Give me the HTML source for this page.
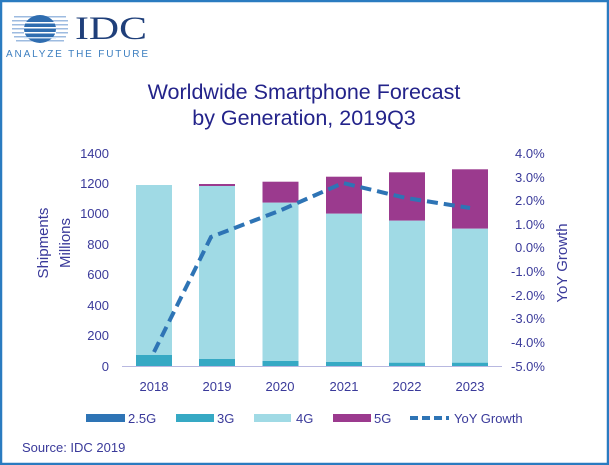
<!DOCTYPE html>
<html><head><meta charset="utf-8"><style>
body{margin:0;background:#fff}
svg{display:block;font-family:"Liberation Sans",sans-serif}
</style></head><body>
<svg width="609" height="465" viewBox="0 0 609 465">
<rect x="1" y="1" width="607" height="463" fill="#fff" stroke="#2a7bc0" stroke-width="2.5"/>
<!-- logo -->
<g>
<rect x="14" y="16" width="52" height="1.5" fill="#9dbbe0"/>
<rect x="12" y="20" width="56" height="1.5" fill="#9dbbe0"/>
<rect x="12" y="24" width="56" height="1.5" fill="#9dbbe0"/>
<rect x="12" y="28" width="56" height="1.5" fill="#9dbbe0"/>
<rect x="12" y="32" width="56" height="1.5" fill="#9dbbe0"/>
<rect x="14" y="36" width="52" height="1.5" fill="#9dbbe0"/>
<rect x="16" y="40" width="48" height="1.5" fill="#9dbbe0"/>
<ellipse cx="40" cy="29" rx="16" ry="14" fill="#2f6db0"/>
<rect x="24" y="22" width="32" height="1.5" fill="#fff"/>
<rect x="24" y="27" width="32" height="1.5" fill="#fff"/>
<rect x="24" y="32" width="32" height="1.5" fill="#fff"/>
<rect x="24" y="37" width="32" height="1.5" fill="#cfe0f2"/>
</g>
<text x="75" y="39" font-family="Liberation Serif,serif" font-size="33" fill="#1f3f7a" textLength="72" lengthAdjust="spacingAndGlyphs">IDC</text>
<text x="6" y="57" font-size="10" fill="#3d7fc0" textLength="142">ANALYZE THE FUTURE</text>
<g fill="#23238a" font-size="21.5" text-anchor="middle">
<text x="304" y="99">Worldwide Smartphone Forecast</text>
<text x="304" y="125">by Generation, 2019Q3</text>
</g>
<!-- axes labels -->
<g fill="#3a3a9a" font-size="13" text-anchor="end">
<text x="109" y="158">1400</text><text x="109" y="188">1200</text><text x="109" y="218">1000</text>
<text x="109" y="249">800</text><text x="109" y="279">600</text><text x="109" y="310">400</text>
<text x="109" y="340">200</text><text x="109" y="371">0</text>
</g>
<g fill="#3a3a9a" font-size="13">
<text x="515" y="158">4.0%</text><text x="515" y="182">3.0%</text><text x="515" y="205">2.0%</text>
<text x="515" y="229">1.0%</text><text x="515" y="252">0.0%</text><text x="511" y="276">-1.0%</text>
<text x="511" y="300">-2.0%</text><text x="511" y="323">-3.0%</text><text x="511" y="347">-4.0%</text>
<text x="511" y="371">-5.0%</text>
</g>
<g fill="#3a3a9a" font-size="15" text-anchor="middle">
<text transform="translate(48,243) rotate(-90)">Shipments</text>
<text transform="translate(70,243) rotate(-90)">Millions</text>
<text transform="translate(567,263) rotate(-90)">YoY Growth</text>
</g>
<!-- bars -->
<g>
<rect x="136" y="185" width="36" height="170" fill="#a0dae5"/><rect x="136" y="355" width="36" height="11" fill="#36a9c4"/>
<rect x="199" y="184" width="36" height="2" fill="#9b3a8e"/><rect x="199" y="186" width="36" height="173" fill="#a0dae5"/><rect x="199" y="359" width="36" height="7" fill="#36a9c4"/>
<rect x="262.5" y="181.7" width="36" height="21" fill="#9b3a8e"/><rect x="262.5" y="202.7" width="36" height="158.3" fill="#a0dae5"/><rect x="262.5" y="361" width="36" height="5" fill="#36a9c4"/>
<rect x="326" y="176.7" width="36" height="37" fill="#9b3a8e"/><rect x="326" y="213.7" width="36" height="148.3" fill="#a0dae5"/><rect x="326" y="362" width="36" height="4" fill="#36a9c4"/>
<rect x="389" y="172.3" width="36" height="48.4" fill="#9b3a8e"/><rect x="389" y="220.7" width="36" height="142" fill="#a0dae5"/><rect x="389" y="362.7" width="36" height="3.3" fill="#36a9c4"/>
<rect x="452" y="169.3" width="36" height="59.4" fill="#9b3a8e"/><rect x="452" y="228.7" width="36" height="134" fill="#a0dae5"/><rect x="452" y="362.7" width="36" height="3.3" fill="#36a9c4"/>
</g>
<line x1="122" y1="366.5" x2="502" y2="366.5" stroke="#b8b8e0" stroke-width="1"/>
<polyline points="154,352 211,237 279,211 343,183 406,198 470,208" fill="none" stroke="#2e74b5" stroke-width="4" stroke-dasharray="11,6"/>
<g fill="#3a3a9a" font-size="13" text-anchor="middle">
<text x="154" y="391">2018</text><text x="217" y="391">2019</text><text x="280" y="391">2020</text>
<text x="344" y="391">2021</text><text x="407" y="391">2022</text><text x="470" y="391">2023</text>
</g>
<!-- legend -->
<rect x="86" y="414" width="39" height="8" fill="#2e74b5"/>
<rect x="176" y="414" width="38" height="8" fill="#36a9c4"/>
<rect x="254" y="414" width="37" height="8" fill="#a0dae5"/>
<rect x="333" y="414" width="38" height="8" fill="#9b3a8e"/>
<line x1="410" y1="418" x2="449" y2="418" stroke="#2e74b5" stroke-width="4" stroke-dasharray="8,4"/>
<g fill="#3a3a9a" font-size="13">
<text x="128" y="423">2.5G</text><text x="217" y="423">3G</text><text x="296" y="423">4G</text>
<text x="374" y="423">5G</text><text x="454" y="423">YoY Growth</text>
<text x="22" y="452">Source: IDC 2019</text>
</g>
</svg>
</body></html>
